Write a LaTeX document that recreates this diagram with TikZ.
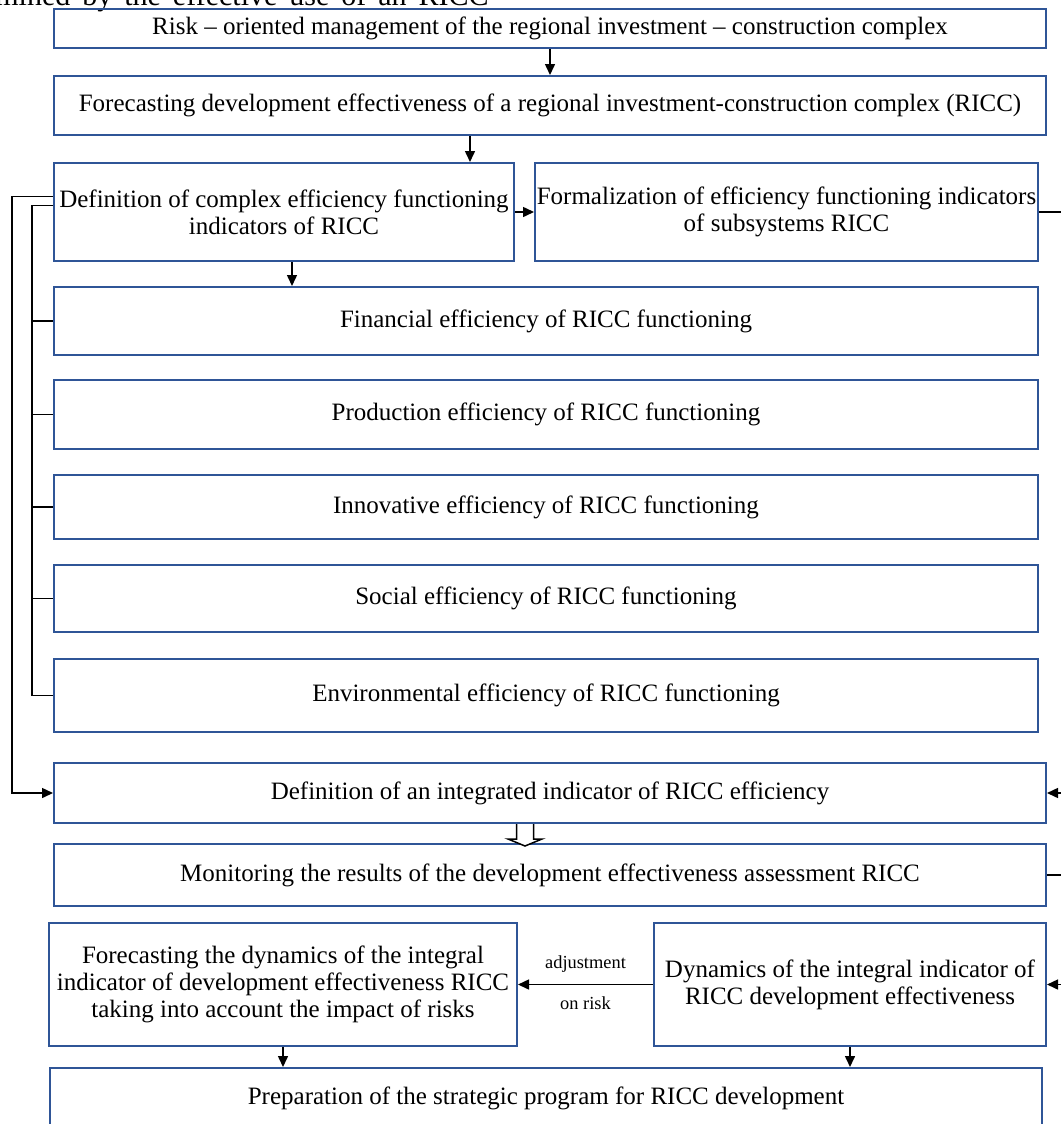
\documentclass[tikz,border=0pt]{standalone}
\usepackage{fontspec}
\setmainfont{Liberation Serif}
\usetikzlibrary{arrows.meta}
\definecolor{boxblue}{RGB}{47,85,151}
\tikzset{
  box/.style={draw=boxblue,line width=1pt,inner sep=0pt,align=center,
    font=\fontsize{12.5}{13.5}\selectfont},
  wire/.style={line width=0.75pt},
  link/.style={wire,-{Triangle[length=5.5pt,width=5pt]}},
  tag/.style={font=\fontsize{9.2}{11}\selectfont,inner sep=0pt},
}
\begin{document}
\begin{tikzpicture}[x=0.5pt,y=-0.5pt]
\useasboundingbox (0,0) rectangle (1060,1124);
\node[anchor=base west,inner sep=0pt,font=\fontsize{15}{18}\selectfont] (heading) at (-65,5) {\spaceskip=0.4em determined by the effective use of an RICC};
\node[box,minimum width=496pt,minimum height=19.5pt] (risk) at (550,28.5) {Risk -- oriented management of the regional investment -- construction complex};
\node[box,minimum width=496pt,minimum height=29.5pt] (forecast) at (550,105.5) {Forecasting development effectiveness of a regional investment-construction complex (RICC)};
\node[box,minimum width=230pt,minimum height=49pt] (define) at (284,212) {Definition of complex efficiency functioning\\indicators of RICC};
\node[box,minimum width=251.5pt,minimum height=49pt] (formal) at (786.5,212) {Formalization of efficiency functioning indicators\\of subsystems RICC};
\foreach \n/\y/\h/\t in {fin/321/34/Financial, prod/414.5/34.5/Production, innov/507/32/Innovative, soc/598.5/33.5/Social, env/695.5/36.5/Environmental}
  \node[box,minimum width=492pt,minimum height=\h pt] (\n) at (546,\y) {\t\ efficiency of RICC functioning};
\node[box,minimum width=496pt,minimum height=30pt] (integral) at (550,793) {Definition of an integrated indicator of RICC efficiency};
\node[box,minimum width=496pt,minimum height=31pt] (monitor) at (550,875) {Monitoring the results of the development effectiveness assessment RICC};
\node[box,minimum width=234pt,minimum height=61.5pt] (risks) at (283,984.5) {Forecasting the dynamics of the integral\\indicator of development effectiveness RICC\\taking into account the impact of risks};
\node[box,minimum width=196pt,minimum height=61.5pt] (dynamics) at (850,984.5) {Dynamics of the integral indicator of\\RICC development effectiveness};
\node[box,minimum width=496pt,minimum height=30pt] (program) at (546,1098) {Preparation of the strategic program for RICC development};
% vertical chain
\coordinate (bc) at (470,0);
\coordinate (ce) at (292,0);
\draw[link] (risk) -- (forecast);
\draw[link] (forecast.south -| bc) -- (define.north -| bc);
\draw[link] (define) -- (formal);
\draw[link] (define.south -| ce) -- (fin.north -| ce);
\draw[link] (risks.south) -- (program.north -| risks.south);
\draw[link] (dynamics.south) -- (program.north -| dynamics.south);
\draw[link] (dynamics) -- node[tag,midway,yshift=10pt] {adjustment} node[tag,midway,yshift=-9.5pt] {on risk} (risks);
% hollow arrow
\coordinate (hol) at ([xshift=-12.5pt]integral.south);
\draw[wire,fill=white] (hol) ++(-8.5,0) -- ++(0,15) -- ++(-8.5,0) -- ++(17,7) -- ++(17,-7) -- ++(-8.5,0) -- ++(0,-15);
% left side
\draw[link] ([yshift=7.75pt]define.west) -| ([xshift=-20.5pt]integral.west) -- (integral.west);
\draw[wire] ([yshift=3.25pt]define.west) -| ([xshift=-10.5pt]env.west) -- (env.west);
\foreach \n in {fin,prod,innov,soc}
  \draw[wire] ([xshift=-10.5pt]\n.west) -- (\n.west);
% right side
\draw[link] (formal.east) -| ([xshift=20pt]integral.east) -- (integral.east);
\draw[link] (monitor.east) -| ([xshift=20pt]dynamics.east) -- (dynamics.east);
\end{tikzpicture}
\end{document}
